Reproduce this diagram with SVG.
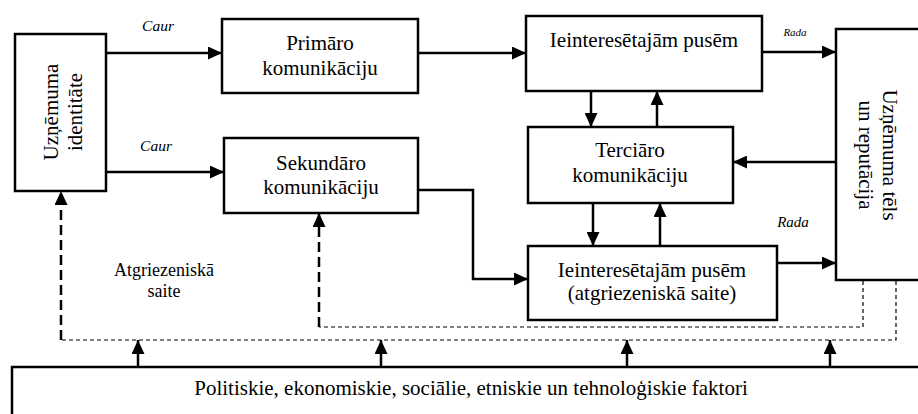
<svg xmlns="http://www.w3.org/2000/svg" width="918" height="414" viewBox="0 0 918 414" font-family="'Liberation Serif', 'Times New Roman', Times, serif">
  <style>
    .box { fill: #fff; stroke: #000; stroke-width: 2.5; }
    .t { font-size: 21px; fill: #000; text-anchor: middle; }
    .lbl { font-style: italic; fill: #000; text-anchor: middle; }
    .ln { fill: none; stroke: #000; stroke-width: 2.5; }
    .dash-thick { fill: none; stroke: #000; stroke-width: 2.5; stroke-dasharray: 10 5; }
    .dash-thin { fill: none; stroke: #000; stroke-width: 1.2; stroke-dasharray: 4 3; }
  </style>
  <defs>
    <marker id="arrow" markerUnits="userSpaceOnUse" markerWidth="15" markerHeight="13" refX="14" refY="6.5" orient="auto">
      <path d="M0,0 L14,6.5 L0,13 z" fill="#000"/>
    </marker>
  </defs>
  <rect width="918" height="414" fill="#fff"/>

  <!-- connectors -->
  <g id="connectors">
    <line class="ln" x1="107" y1="53" x2="222" y2="53" marker-end="url(#arrow)"/>
    <line class="ln" x1="107" y1="172" x2="224" y2="172" marker-end="url(#arrow)"/>
    <line class="ln" x1="418" y1="53" x2="526" y2="53" marker-end="url(#arrow)"/>
    <line class="ln" x1="762" y1="52" x2="836" y2="52" marker-end="url(#arrow)"/>
    <line class="ln" x1="591" y1="91" x2="591" y2="127" marker-end="url(#arrow)"/>
    <line class="ln" x1="657" y1="127" x2="657" y2="91" marker-end="url(#arrow)"/>
    <line class="ln" x1="836" y1="162" x2="733" y2="162" marker-end="url(#arrow)"/>
    <line class="ln" x1="593" y1="203" x2="593" y2="246" marker-end="url(#arrow)"/>
    <line class="ln" x1="660" y1="246" x2="660" y2="203" marker-end="url(#arrow)"/>
    <polyline class="ln" points="418,190 473,190 473,279 528,279" marker-end="url(#arrow)"/>
    <line class="ln" x1="777" y1="263" x2="836" y2="263" marker-end="url(#arrow)"/>

    <!-- feedback loops -->
    <polyline class="dash-thin" points="863,281 863,327 319,327"/>
    <line class="dash-thick" x1="319" y1="327" x2="319" y2="213" marker-end="url(#arrow)"/>
    <polyline class="dash-thin" points="896,281 896,340 61,340"/>
    <line class="dash-thick" x1="61" y1="340" x2="61" y2="191" marker-end="url(#arrow)"/>

    <!-- environment influences -->
    <line class="ln" x1="138" y1="367" x2="138" y2="340" marker-end="url(#arrow)"/>
    <line class="ln" x1="381" y1="367" x2="381" y2="340" marker-end="url(#arrow)"/>
    <line class="ln" x1="627" y1="367" x2="627" y2="340" marker-end="url(#arrow)"/>
    <line class="ln" x1="830" y1="367" x2="830" y2="340" marker-end="url(#arrow)"/>

    <text class="lbl" x="158" y="31" font-size="15.5">Caur</text>
    <text class="lbl" x="156" y="151" font-size="15.5">Caur</text>
    <text class="lbl" x="795" y="36" font-size="11">Rada</text>
    <text class="lbl" x="793" y="227" font-size="15">Rada</text>
    <text class="t" x="164" y="276" style="font-size:18px">Atgriezeniskā</text>
    <text class="t" x="164" y="297" style="font-size:18px">saite</text>
  </g>

  <g id="identitate">
    <rect class="box" x="15" y="34" width="91" height="157"/>
    <g transform="translate(58,112) rotate(-90)">
      <text class="t" x="0" y="0">Uzņēmuma</text>
      <text class="t" x="0" y="24">identitāte</text>
    </g>
  </g>

  <g id="primara">
    <rect class="box" x="222" y="19" width="196" height="74"/>
    <text class="t" x="320" y="50">Primāro</text>
    <text class="t" x="320" y="75">komunikāciju</text>
  </g>

  <g id="sekundara">
    <rect class="box" x="224" y="138" width="194" height="75"/>
    <text class="t" x="321" y="170">Sekundāro</text>
    <text class="t" x="321" y="194">komunikāciju</text>
  </g>

  <g id="puses">
    <rect class="box" x="526" y="16" width="236" height="75"/>
    <text class="t" x="644" y="47">Ieinteresētajām pusēm</text>
  </g>

  <g id="terciara">
    <rect class="box" x="528" y="127" width="205" height="76"/>
    <text class="t" x="630" y="157">Terciāro</text>
    <text class="t" x="630" y="182">komunikāciju</text>
  </g>

  <g id="puses-saite">
    <rect class="box" x="528" y="246" width="249" height="74"/>
    <text class="t" x="652" y="277">Ieinteresētajām pusēm</text>
    <text class="t" x="652" y="300">(atgriezeniskā saite)</text>
  </g>

  <g id="tels">
    <rect class="box" x="836" y="29" width="100" height="251"/>
    <g transform="translate(883,155) rotate(90)">
      <text class="t" x="0" y="0">Uzņēmuma tēls</text>
      <text class="t" x="0" y="24">un reputācija</text>
    </g>
  </g>

  <g id="faktori">
    <rect class="box" x="12" y="367" width="920" height="60"/>
    <text class="t" x="471" y="395">Politiskie, ekonomiskie, sociālie, etniskie un tehnoloģiskie faktori</text>
  </g>
</svg>
